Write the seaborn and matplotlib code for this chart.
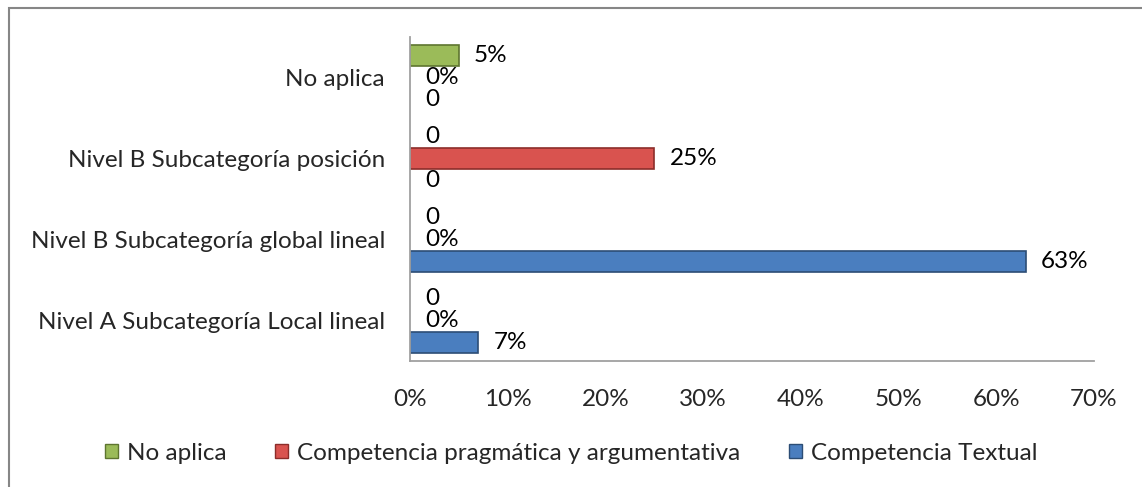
import matplotlib
matplotlib.use("Agg")
import matplotlib.pyplot as plt
from matplotlib.patches import Rectangle
import seaborn as sns
import pandas as pd

categories = ["No aplica",
              "Nivel B Subcategoría posición",
              "Nivel B Subcategoría global lineal",
              "Nivel A Subcategoría Local lineal"]
series = ["No aplica", "Competencia pragmática y argumentativa", "Competencia Textual"]
no_aplica = [5, 0, 0, 0]
pragmatica = [0, 25, 0, 0]
textual = [0, 0, 63, 7]
no_aplica_labels = ["5%", "0", "0", "0"]
pragmatica_labels = ["0%", "25%", "0%", "0%"]
textual_labels = ["0", "0", "63%", "7%"]
xticks = [0, 10, 20, 30, 40, 50, 60, 70]
xtick_labels = ["0%", "10%", "20%", "30%", "40%", "50%", "60%", "70%"]

colors = {"No aplica": "#9BBB59",
          "Competencia pragmática y argumentativa": "#D9534F",
          "Competencia Textual": "#4A7EBF"}
edges = {"No aplica": "#5E7530",
         "Competencia pragmática y argumentativa": "#8C2D2A",
         "Competencia Textual": "#2C4D75"}

rows = []
for s, vals in zip(series, [no_aplica, pragmatica, textual]):
    for c, v in zip(categories, vals):
        rows.append({"cat": c, "serie": s, "val": v})
df = pd.DataFrame(rows)

sns.set_style("white")
plt.rcParams['font.family'] = ['Lato', 'DejaVu Sans']
FS = 17.5

fig = plt.figure(figsize=(11.42, 4.87), dpi=100)
ax = fig.add_axes([410/1142, 1-361/487, (1094-410)/1142, (361-37)/487])

sns.barplot(data=df, y="cat", x="val", hue="serie", order=categories,
            hue_order=series, palette=colors, saturation=1, orient="h",
            width=0.82, gap=0.05, ax=ax, legend=True)

label_sets = [no_aplica_labels, pragmatica_labels, textual_labels]
for cont, s, labs in zip(ax.containers, series, label_sets):
    for p in cont:
        if p.get_width() > 0:
            p.set_edgecolor(edges[s])
            p.set_linewidth(1.2)
        else:
            p.set_linewidth(0)
    ax.bar_label(cont, labels=labs, padding=11, fontsize=FS, color="black")

ax.set_xlim(0, 70)
ax.set_xticks(xticks)
ax.set_xticklabels(xtick_labels, fontsize=FS)
ax.tick_params(axis="x", pad=20, length=0)
ax.tick_params(axis="y", pad=18, length=0, labelsize=FS)
ax.set_xlabel("")
ax.set_ylabel("")
for side in ["top", "right"]:
    ax.spines[side].set_visible(False)
for side in ["left", "bottom"]:
    ax.spines[side].set_color("#A0A0A0")
    ax.spines[side].set_linewidth(1.3)

handles, labels = ax.get_legend_handles_labels()
ax.get_legend().remove()
for h, s in zip(handles, labels):
    h.set_edgecolor(edges[s])
    h.set_linewidth(1.0)
leg = fig.legend(handles, labels, loc="center", bbox_to_anchor=(0.5, 1-453/487),
                 ncol=3, frameon=False, fontsize=FS, handlelength=0.55,
                 handleheight=0.55, handletextpad=0.35, columnspacing=2.0)

fig.patches.append(Rectangle((9/1142, -0.1), 1.2, (1-8/487) + 0.1,
                             transform=fig.transFigure, fill=False,
                             edgecolor="#868686", linewidth=1.5))

fig.savefig("out.png", dpi=100)
